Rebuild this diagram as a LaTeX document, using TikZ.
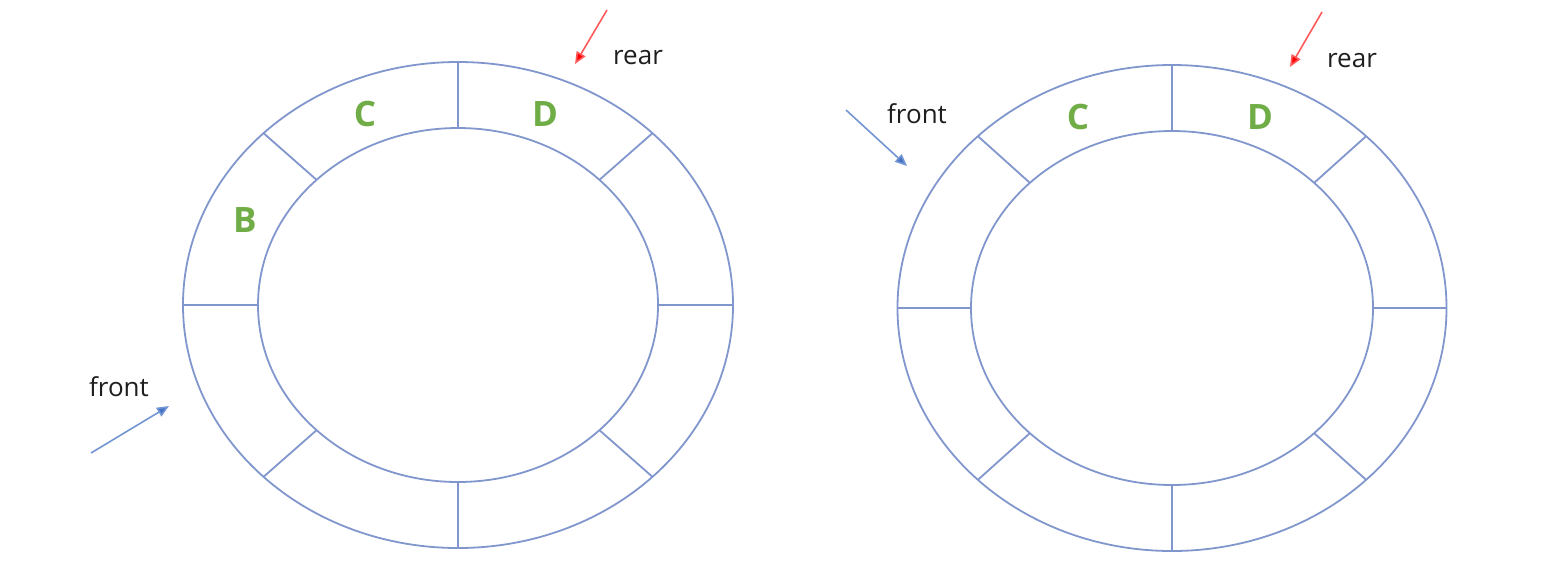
\documentclass[tikz,border=0pt]{standalone}
\usepackage{fontspec}
\setmainfont{Open Sans}
\usetikzlibrary{arrows.meta}
\definecolor{ringc}{RGB}{128,150,205}
\definecolor{lettc}{RGB}{112,173,71}
\definecolor{txtc}{RGB}{30,30,30}
\definecolor{bluea}{RGB}{68,114,196}
\definecolor{reda}{RGB}{255,0,0}
\tikzset{
  ring/.style={draw=ringc, line width=0.9pt},
  slotlabel/.style={text=lettc, font=\fontsize{17.5}{20}\selectfont\bfseries, inner sep=0pt},
  ptrlabel/.style={text=txtc, font=\fontsize{13}{15}\selectfont, inner sep=0pt},
  frontarrow/.style={draw=bluea!75, line width=0.8pt, -{Triangle[length=6pt,width=5pt,fill=bluea]}},
  reararrow/.style={draw=reda!65, line width=0.8pt, -{Triangle[length=6pt,width=5pt,fill=reda]}}
}
\newcommand{\myring}[6]{% cx cy orx ory irx iry
  \draw[ring] (#1,#2) ellipse [x radius=#3, y radius=#4];
  \draw[ring] (#1,#2) ellipse [x radius=#5, y radius=#6];
  \foreach \a in {0,45,...,315}{
    \draw[ring] ({#1+#5*cos(\a)},{#2-#6*sin(\a)}) -- ({#1+#3*cos(\a)},{#2-#4*sin(\a)});
  }
}
\begin{document}
\begin{tikzpicture}[x=0.5pt,y=-0.5pt]
\useasboundingbox (0,0) rectangle (1556,580);
\myring{458}{305}{275}{243}{200}{177}
\myring{1172}{308}{274.5}{243}{201}{177}
% left labels
\node[slotlabel] (lC) at (365,114) {C};
\node[slotlabel] (lD) at (545,114) {D};
\node[slotlabel] (lB) at (245,220) {B};
\node[ptrlabel] (lrear) at (638,58) {rear};
\node[ptrlabel] (lfront) at (119,387) {front};
\coordinate (lrs) at (607,10);
\coordinate (lrt) at (575,64);
\coordinate (lfs) at (91,453);
\coordinate (lft) at (169,406);
\draw[reararrow] (lrs) -- (lrt);
\draw[frontarrow] (lfs) -- (lft);
% right labels
\node[slotlabel] (rC) at (1078,117) {C};
\node[slotlabel] (rD) at (1260,117) {D};
\node[ptrlabel] (rrear) at (1352,61) {rear};
\node[ptrlabel] (rfront) at (917,114) {front};
\coordinate (rrs) at (1322,12);
\coordinate (rrt) at (1290,67);
\coordinate (rfs) at (846,110);
\coordinate (rft) at (907,166);
\draw[reararrow] (rrs) -- (rrt);
\draw[frontarrow] (rfs) -- (rft);
\end{tikzpicture}
\end{document}
